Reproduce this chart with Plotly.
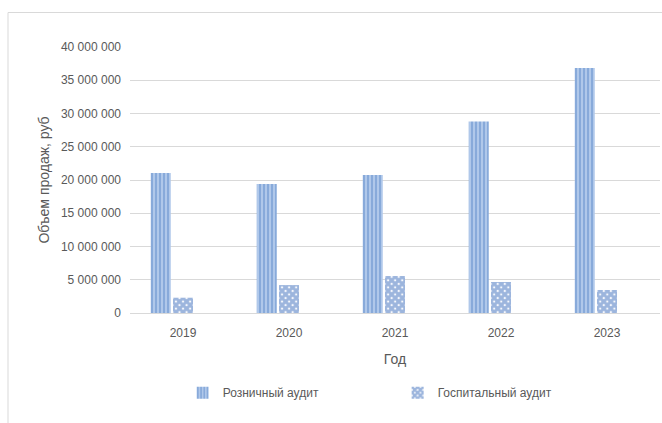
import plotly.graph_objects as go

years = ["2019", "2020", "2021", "2022", "2023"]
retail = [21050000, 19400000, 20750000, 28800000, 36850000]
hospital = [2300000, 4200000, 5560000, 4660000, 3460000]
spare = [None, None, None, None, None]  # empty third slot of each group
y_ticks = [0, 5000000, 10000000, 15000000, 20000000, 25000000, 30000000, 35000000, 40000000]
y_tick_text = ["0", "5 000 000", "10 000 000", "15 000 000", "20 000 000",
               "25 000 000", "30 000 000", "35 000 000", "40 000 000"]

FONT = "Liberation Sans, Arial, sans-serif"
GREY = "#595959"

fig = go.Figure()
fig.add_trace(go.Bar(
    x=years, y=retail, name="Розничный аудит",
    marker=dict(color="#b0c8ea", line=dict(width=0),
                pattern=dict(shape="|", fgcolor="#5585c8", bgcolor="#b0c8ea",
                             size=4, solidity=0.45, fillmode="overlay")),
))
fig.add_trace(go.Bar(
    x=years, y=hospital, name="Госпитальный аудит",
    marker=dict(color="#ffffff", line=dict(width=0),
                pattern=dict(shape="x", fgcolor="#3a6cbc", bgcolor="#ffffff",
                             size=5, solidity=0.85, fillmode="overlay")),
))
fig.add_trace(go.Bar(x=years, y=spare, showlegend=False, hoverinfo="skip",
                     marker=dict(color="rgba(0,0,0,0)")))

fig.update_layout(
    width=662, height=423,
    margin=dict(l=130, r=2, t=47, b=110),
    paper_bgcolor="white", plot_bgcolor="white",
    barmode="group", bargap=0.37, bargroupgap=0.1,
    font=dict(family=FONT, size=12, color=GREY),
    showlegend=True,
    legend=dict(orientation="h", x=0.505, xanchor="center", y=-0.245, yanchor="top",
                font=dict(family=FONT, size=12, color=GREY),
                itemwidth=30, traceorder="normal", entrywidth=170),
    shapes=[dict(type="rect", xref="paper", yref="paper",
                 x0=(8 - 130) / 530, x1=(672 - 130) / 530,
                 y0=(313 - 440) / 266, y1=1 + (47 - 12.5) / 266,
                 line=dict(color="#d9d9d9", width=1), fillcolor="rgba(0,0,0,0)",
                 layer="below")],
)

fig.update_xaxes(
    showgrid=False, showline=True, linecolor="#d9d9d9", linewidth=1,
    ticks="", ticklabelstandoff=9, tickfont=dict(family=FONT, size=12, color=GREY),
    title=dict(text="Год", font=dict(family=FONT, size=14, color=GREY), standoff=14),
)
fig.update_yaxes(
    range=[0, 40000000], tickvals=y_ticks, ticktext=y_tick_text,
    showgrid=True, gridcolor="#d9d9d9", gridwidth=1, zeroline=False, showline=False,
    ticks="", ticklabelstandoff=8,
    tickfont=dict(family=FONT, size=12, color=GREY),
    title=dict(text="Объем продаж, руб", font=dict(family=FONT, size=14, color=GREY),
               standoff=8),
)

fig.write_html("out.html")
